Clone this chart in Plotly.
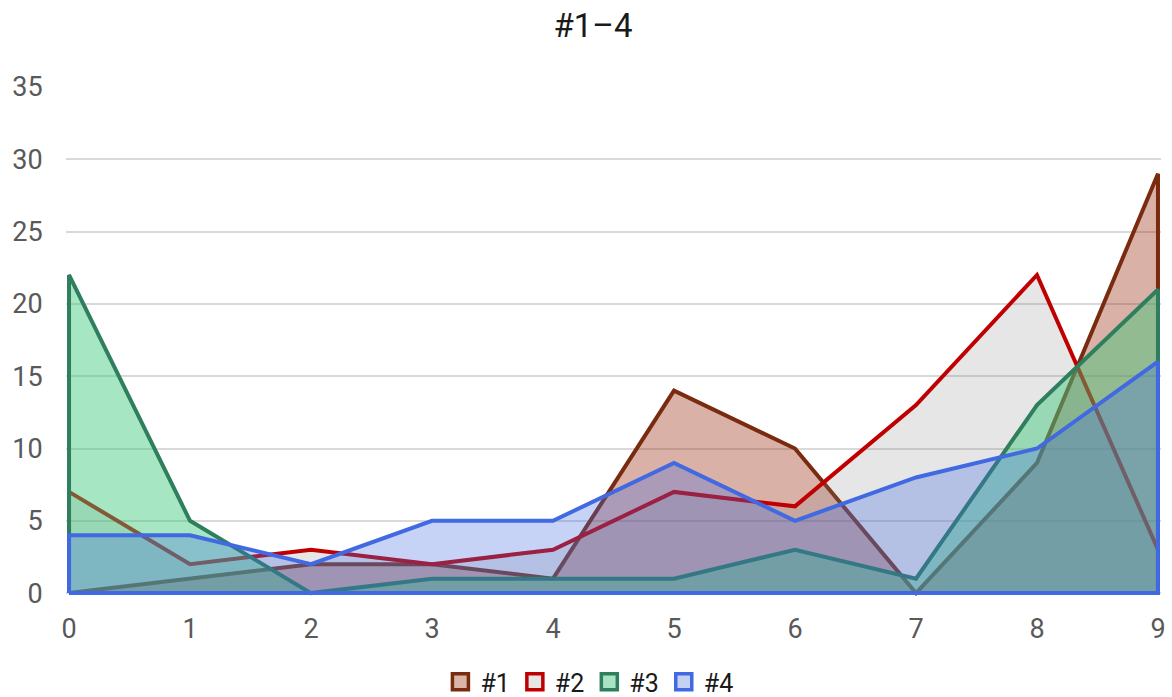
import plotly.graph_objects as go

categories = [0, 1, 2, 3, 4, 5, 6, 7, 8, 9]
series_names = ["#1", "#2", "#3", "#4"]
s1 = [0, 1, 2, 2, 1, 14, 10, 0, 9, 29]
s2 = [7, 2, 3, 2, 3, 7, 6, 13, 22, 3]
s3 = [22, 5, 0, 1, 1, 1, 3, 1, 13, 21]
s4 = [4, 4, 2, 5, 5, 9, 5, 8, 10, 16]
y_ticks = [0, 5, 10, 15, 20, 25, 30, 35]

line_colors = ["#7A2B0F", "#C00000", "#2F7F5F", "#4169E1"]
fill_colors = ["rgba(150,40,10,0.36)", "rgba(128,128,128,0.2)",
               "rgba(60,200,120,0.45)", "rgba(65,105,225,0.3)"]
legend_fill = ["#D9B4A7", "#E6E6E6", "#A8E4C4", "#C3D1F3"]

FONT = "Roboto"
fig = go.Figure()

for name, vals, lc, fc in zip(series_names, [s1, s2, s3, s4], line_colors, fill_colors):
    xs = [categories[0]] + categories + [categories[-1], categories[0]]
    ys = [0] + vals + [0, 0]
    fig.add_trace(go.Scatter(
        x=xs, y=ys, mode="lines", fill="toself", fillcolor=fc,
        line=dict(color=lc, width=4), showlegend=False, hoverinfo="skip",
        name=name))

for name, lc, lf in zip(series_names, line_colors, legend_fill):
    fig.add_trace(go.Scatter(
        x=[None], y=[None], mode="markers", name=name,
        marker=dict(symbol="square", size=17, color=lf, line=dict(color=lc, width=3.5))))

M_T, M_B = 87, 101
plot_h = 697 - M_T - M_B

fig.update_layout(
    width=1172, height=697,
    paper_bgcolor="white", plot_bgcolor="white",
    margin=dict(l=66, r=11, t=M_T, b=M_B, autoexpand=False),
    title=dict(text="#1–4", x=0.506, xanchor="center", y=1 - 25 / 697, yanchor="middle",
               yref="container", font=dict(family=FONT, size=33, color="#1a1a1a")),
    showlegend=True,
    legend=dict(orientation="h", x=0.478, xanchor="center",
                y=-(682 - (697 - M_B)) / plot_h, yanchor="middle",
                font=dict(family=FONT, size=25, color="#1a1a1a"),
                itemsizing="trace", tracegroupgap=0, itemwidth=30),
    font=dict(family=FONT),
)

fig.update_xaxes(
    range=[-0.025, 9.025], tickmode="array", tickvals=categories,
    ticktext=[str(c) for c in categories],
    showgrid=False, zeroline=False, showline=False, automargin=False,
    ticks="", ticklabelstandoff=14,
    tickfont=dict(family=FONT, size=27, color="#595959"),
)
fig.update_yaxes(
    range=[-0.2, 35], tickmode="array", tickvals=y_ticks,
    showgrid=True, gridcolor="#D9D9D9", gridwidth=2, zeroline=False, showline=False,
    automargin=False,
    ticks="outside", ticklen=17, tickcolor="rgba(0,0,0,0)",
    tickfont=dict(family=FONT, size=27, color="#595959"),
)

fig.write_html("out.html", config={"displayModeBar": False},
               post_script="document.body.style.margin='0';")
